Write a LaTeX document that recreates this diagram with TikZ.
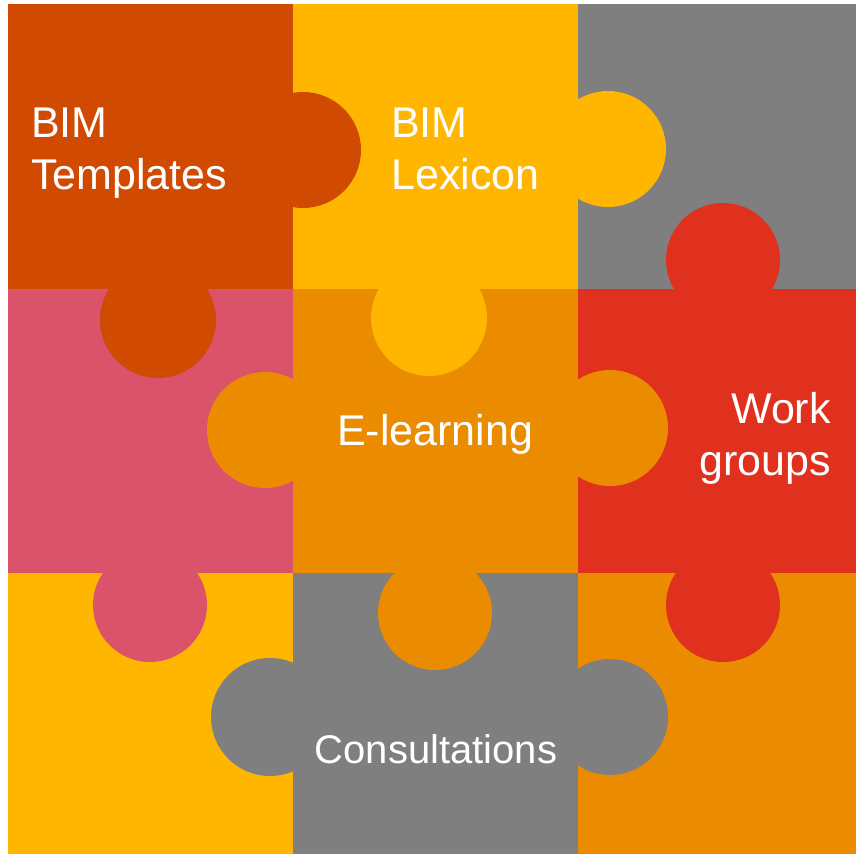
\documentclass[tikz,border=0pt]{standalone}
\usepackage{fontspec}
\setmainfont{Liberation Sans}
\definecolor{tangerine}{HTML}{D04A02}
\definecolor{amber}{HTML}{FFB600}
\definecolor{slate}{HTML}{7F7F7F}
\definecolor{rose}{HTML}{DB536A}
\definecolor{pieceorange}{HTML}{EB8C00}
\definecolor{scarlet}{HTML}{E0301E}
\begin{document}
\begin{tikzpicture}[x=1pt, y=-1pt,
    piecetext/.style={text=white, inner sep=0pt, font=\fontsize{43}{52}\selectfont}]
	  \useasboundingbox (0,0) rectangle (856,854);
	  % squares
	  \fill[tangerine] (8,4) rectangle (293,289);
	  \fill[amber] (293,4) rectangle (578,289);
	  \fill[slate] (578,4) rectangle (856,289);
	  \fill[rose] (8,289) rectangle (293,573);
	  \fill[pieceorange] (293,289) rectangle (578,573);
	  \fill[scarlet] (578,289) rectangle (856,573);
	  \fill[amber] (8,573) rectangle (293,854);
	  \fill[slate] (293,573) rectangle (578,854);
	  \fill[pieceorange] (578,573) rectangle (856,854);
	  % knobs
	  \fill[tangerine] (303,150) circle (58);
	  \fill[tangerine] (158,320) circle (58);
	  \fill[amber] (608,149) circle (58);
	  \fill[amber] (429,318) circle (58);
	  \fill[scarlet] (723,260) circle (57);
	  \fill[pieceorange] (265,430) circle (58);
	  \fill[pieceorange] (610,428) circle (58);
	  \fill[rose] (150,605) circle (57);
	  \fill[pieceorange] (435,613) circle (57);
	  \fill[scarlet] (723,605) circle (57);
	  \fill[slate] (270,717) circle (59);
	  \fill[slate] (610,717) circle (58);
	  % labels
	  \node[piecetext, anchor=base west] (bim1) at (31,137) {BIM};
	  \node[piecetext, anchor=base west] (templates) at (31,189) {Templates};
	  \node[piecetext, anchor=base west] (bim2) at (391,137) {BIM};
	  \node[piecetext, anchor=base west] (lexicon) at (391,189) {Lexicon};
	  \node[piecetext, anchor=base] (elearning) at (435,445) {E-learning};
	  \node[piecetext, anchor=base east] (work) at (831,423) {Work};
	  \node[piecetext, anchor=base east] (groups) at (831,475) {groups};
	  \node[piecetext, anchor=base, font=\fontsize{40}{48}\selectfont] (consult) at (436,763) {Consultations};
	\end{tikzpicture}
\end{document}
